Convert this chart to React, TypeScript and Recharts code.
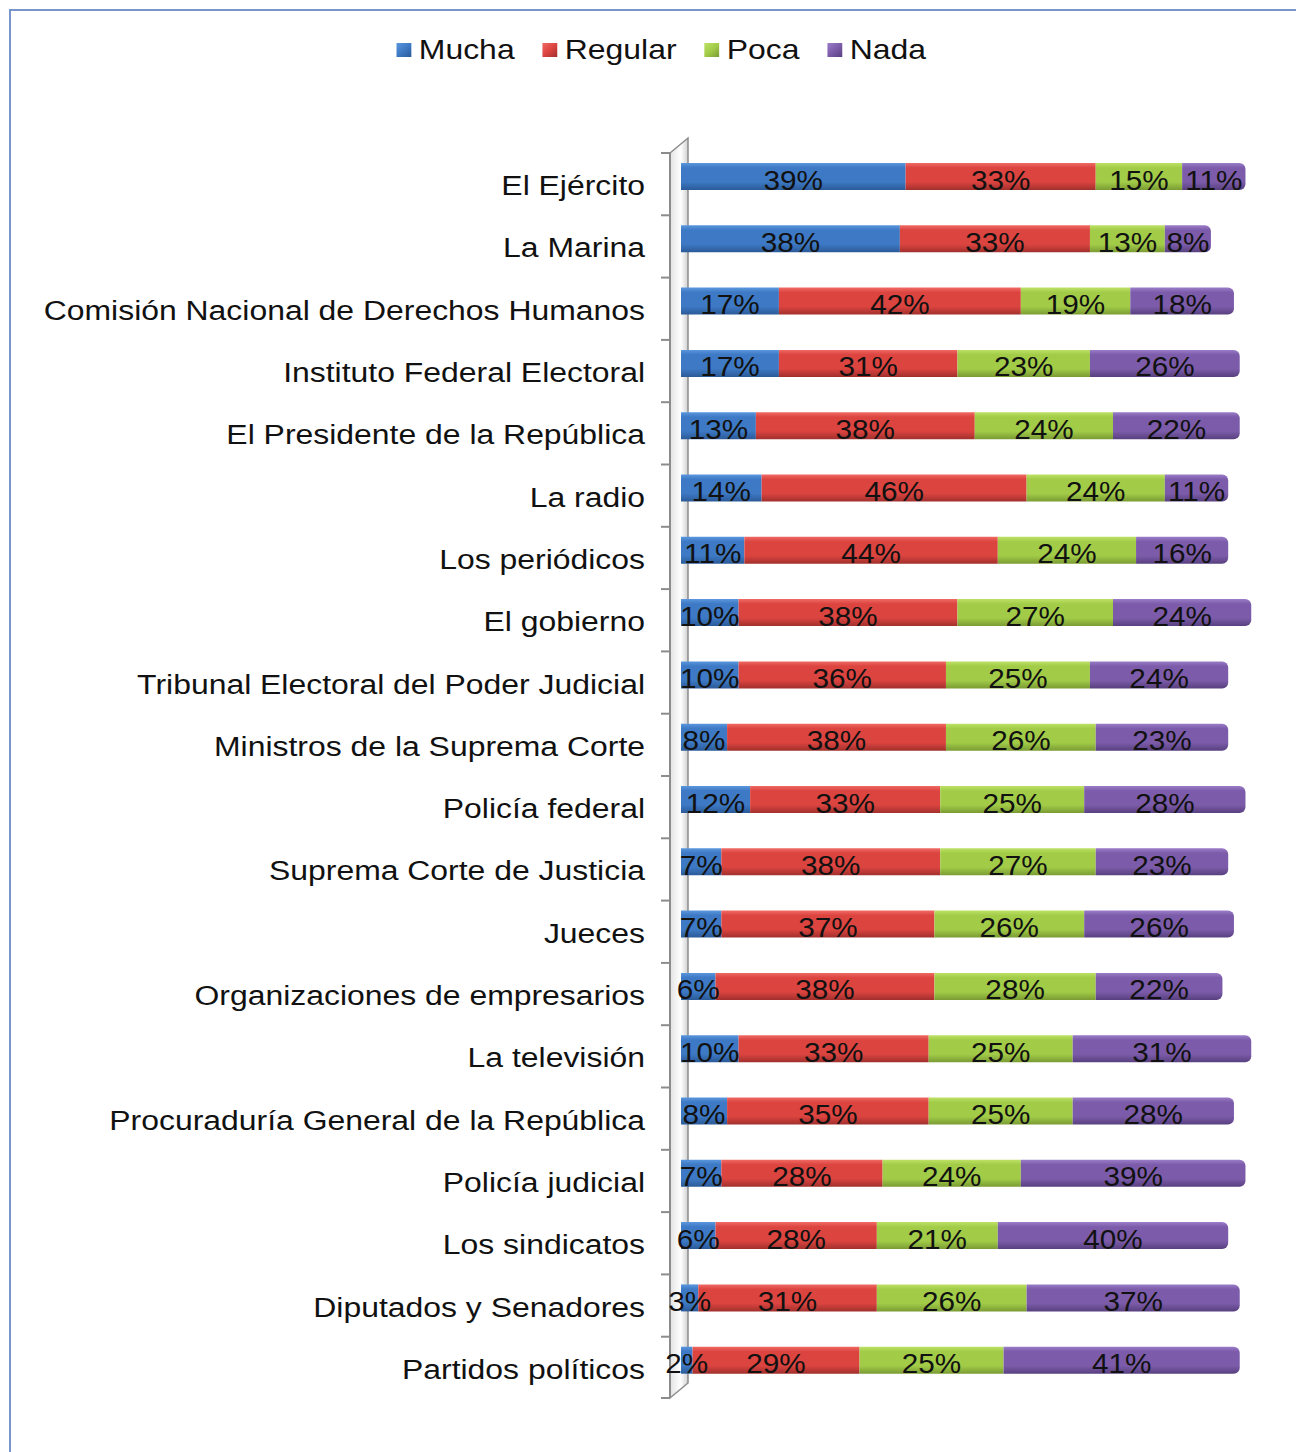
import React from 'react';
import { BarChart, Bar, XAxis, YAxis, Legend, LabelList, Rectangle } from 'recharts';

const categories = [
  'El Ejército',
  'La Marina',
  'Comisión Nacional de Derechos Humanos',
  'Instituto Federal Electoral',
  'El Presidente de la República',
  'La radio',
  'Los periódicos',
  'El gobierno',
  'Tribunal Electoral del Poder Judicial',
  'Ministros de la Suprema Corte',
  'Policía federal',
  'Suprema Corte de Justicia',
  'Jueces',
  'Organizaciones de empresarios',
  'La televisión',
  'Procuraduría General de la República',
  'Policía judicial',
  'Los sindicatos',
  'Diputados y Senadores',
  'Partidos políticos',
];

const mucha = [39, 38, 17, 17, 13, 14, 11, 10, 10, 8, 12, 7, 7, 6, 10, 8, 7, 6, 3, 2];
const regular = [33, 33, 42, 31, 38, 46, 44, 38, 36, 38, 33, 38, 37, 38, 33, 35, 28, 28, 31, 29];
const poca = [15, 13, 19, 23, 24, 24, 24, 27, 25, 26, 25, 27, 26, 28, 25, 25, 24, 21, 26, 25];
const nada = [11, 8, 18, 26, 22, 11, 16, 24, 24, 23, 28, 23, 26, 22, 31, 28, 39, 40, 37, 41];

const data = categories.map((name, i) => ({
  name,
  Mucha: mucha[i],
  Regular: regular[i],
  Poca: poca[i],
  Nada: nada[i],
}));

const W = 1296;
const H = 1452;
const margin = { top: 145, right: 39, bottom: 61, left: 0 };
const band = (H - margin.top - margin.bottom) / categories.length;
const plotBottom = margin.top + band * categories.length;
const FONT = '"Liberation Sans", Arial, sans-serif';

const series = [
  { key: 'Mucha', light: '#5a97de', main: '#3d79c4', dark: '#2b5a98' },
  { key: 'Regular', light: '#f06a64', main: '#dc4440', dark: '#a1302d' },
  { key: 'Poca', light: '#bde165', main: '#a2cc48', dark: '#7a9b33' },
  { key: 'Nada', light: '#9a7cc8', main: '#7c5caa', dark: '#58407f' },
];

// back wall of the 3D chart, drawn under the first bar so every bar covers it
function Wall({ left }: { left: number }) {
  const top = margin.top;
  return (
    <g>
      <polygon
        points={`${left - 11},${top + 8} ${left + 7},${top - 7} ${left + 7},${plotBottom - 8} ${left - 11},${plotBottom + 7}`}
        fill="url(#wallGrad)"
        stroke="#8c8c8c"
        strokeWidth={1.5}
      />
      <line x1={left - 11} y1={top + 8} x2={left - 11} y2={plotBottom + 7} stroke="#8c8c8c" strokeWidth={2} />
    </g>
  );
}

function CategoryTick({ x, y, payload, index }: any) {
  const top = y - band / 2;
  return (
    <g>
      <line x1={x - 20} y1={top + 8} x2={x - 11} y2={top + 8} stroke="#8c8c8c" strokeWidth={2} />
      {index === categories.length - 1 && (
        <line x1={x - 20} y1={plotBottom + 7} x2={x - 11} y2={plotBottom + 7} stroke="#8c8c8c" strokeWidth={2} />
      )}
      <text
        transform={`translate(${x - 36},${y + 19}) scale(1.14,1)`}
        textAnchor="end"
        fontSize={28}
        fontFamily={FONT}
        fill="#111"
      >
        {payload.value}
      </text>
    </g>
  );
}

function ValueLabel({ x, y, width, height, value }: any) {
  const cx = x + width / 2;
  const cy = y + height / 2;
  return (
    <text
      transform={`translate(${cx},${cy + 13}) scale(1.1,1)`}
      textAnchor="middle"
      fontSize={27}
      fontFamily={FONT}
      fill="#111"
    >
      {value}%
    </text>
  );
}

function LegendContent() {
  return (
    <div
      style={{
        display: 'flex',
        justifyContent: 'center',
        alignItems: 'center',
        transform: 'scaleX(1.14)',
        transformOrigin: '661px 0',
        paddingLeft: 26,
        fontFamily: FONT,
        fontSize: 28,
        color: '#111',
      }}
    >
      {series.map((s, i) => (
        <div key={s.key} style={{ display: 'flex', alignItems: 'center', marginRight: i < series.length - 1 ? 24 : 0 }}>
          <span
            style={{
              display: 'inline-block',
              width: 13,
              height: 14,
              marginRight: 7,
              background: `linear-gradient(135deg, ${s.light}, ${s.main} 50%, ${s.dark})`,
            }}
          />
          <span>{s.key}</span>
        </div>
      ))}
    </div>
  );
}

export default function App() {
  return (
    <div style={{ position: 'absolute', left: 0, top: 0, width: W, height: H, overflow: 'hidden', background: '#fff' }}>
      <div
        style={{
          position: 'absolute',
          left: 9,
          top: 9,
          width: W + 20,
          height: H + 20,
          border: '2px solid #7896cb',
          boxSizing: 'border-box',
        }}
      />
      <BarChart width={W} height={H} data={data} layout="vertical" margin={margin} barSize={27}>
        <defs>
          {series.map((s) => (
            <linearGradient key={s.key} id={`grad${s.key}`} x1="0" y1="0" x2="0" y2="1">
              <stop offset="0%" stopColor={s.light} />
              <stop offset="18%" stopColor={s.main} />
              <stop offset="70%" stopColor={s.main} />
              <stop offset="100%" stopColor={s.dark} />
            </linearGradient>
          ))}
          <linearGradient id="wallGrad" x1="0" y1="0" x2="1" y2="0">
            <stop offset="0%" stopColor="#e3e3e3" />
            <stop offset="60%" stopColor="#ffffff" />
            <stop offset="100%" stopColor="#d0d0d0" />
          </linearGradient>
        </defs>
        <XAxis type="number" domain={[0, 100]} hide />
        <YAxis
          type="category"
          dataKey="name"
          width={681}
          axisLine={false}
          tickLine={false}
          tickSize={0}
          tickMargin={0}
          interval={0}
          tick={<CategoryTick />}
        />
        <Legend verticalAlign="middle" align="center" wrapperStyle={{ top: 34, left: 0, width: W }} content={<LegendContent />} />
        {series.map((s, i) => (
          <Bar
            key={s.key}
            dataKey={s.key}
            stackId="a"
            fill={`url(#grad${s.key})`}
            isAnimationActive={false}
            shape={(props: any) => (
              <g>
                {i === 0 && props.index === 0 && <Wall left={props.x} />}
                <Rectangle {...props} radius={i === series.length - 1 ? [0, 6, 6, 0] : 0} />
              </g>
            )}
          >
            <LabelList dataKey={s.key} content={<ValueLabel />} />
          </Bar>
        ))}
      </BarChart>
    </div>
  );
}
